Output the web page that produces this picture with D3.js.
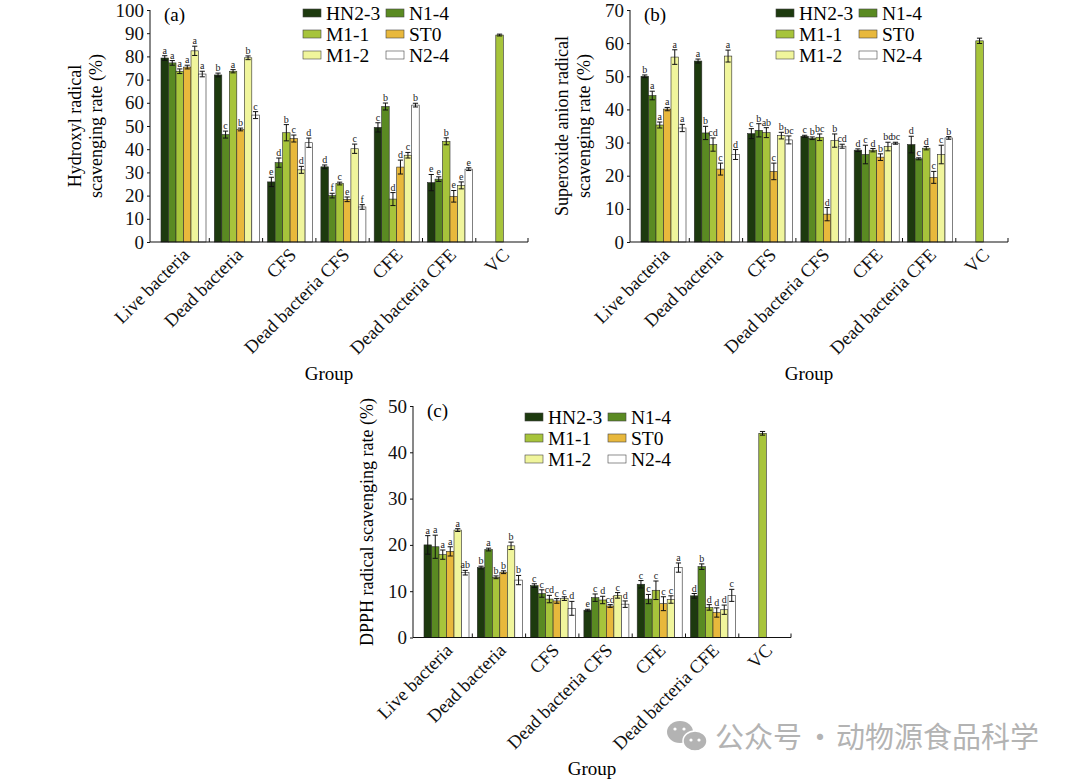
<!DOCTYPE html>
<html>
<head>
<meta charset="utf-8">
<script src="https://cdn.jsdelivr.net/npm/d3@7/dist/d3.min.js"></script>
<style>
  body { margin: 0; background: #fff; }
  svg { display: block; }
  svg text { font-family: "Liberation Serif", "DejaVu Serif", serif; }
  .tick text { font-size: 19px; fill: #111; }
  .letter { font-size: 10px; fill: #222; text-anchor: middle; }
</style>
</head>
<body>
<svg id="chart" width="1080" height="780"></svg>
<script>
var groups = ['Live bacteria', 'Dead bacteria', 'CFS', 'Dead bacteria CFS', 'CFE', 'Dead bacteria CFE', 'VC'];
var strains = ['HN2-3', 'N1-4', 'M1-1', 'ST0', 'M1-2', 'N2-4'];
var colors = ['#1d3a0e', '#5a8a22', '#a7c43b', '#e8b83c', '#f0f59c', '#ffffff'];

// (a) hydroxyl radical, one row per strain, one column per group
var hydroxylMean = [
    [79.3, 72.0, 25.9, 32.4, 49.4, 25.6, null],
    [77.2, 46.3, 34.2, 20.0, 58.4, 27.1, null],
    [73.6, 73.6, 47.1, 25.2, 18.5, 43.4, 89.2],
    [75.4, 48.5, 44.6, 18.4, 32.3, 19.7, null],
    [82.4, 79.4, 31.1, 40.2, 37.4, 24.4, null],
    [72.4, 54.7, 42.8, 15.1, 59.0, 31.4, null]
];
var hydroxylErr = [
    [1.0, 0.8, 2.0, 0.8, 2.0, 3.5, null],
    [1.0, 1.5, 2.0, 1.0, 1.5, 1.0, null],
    [1.0, 0.7, 3.5, 0.6, 2.8, 1.5, 0.4],
    [0.8, 0.6, 1.5, 1.0, 3.0, 2.5, null],
    [2.0, 0.8, 1.5, 2.0, 1.2, 1.5, null],
    [1.2, 1.5, 2.0, 1.0, 0.8, 0.6, null]
];
var hydroxylLetters = [
    ['a', 'b', 'e', 'd', 'c', 'e'],
    ['a', 'c', 'd', 'f', 'b', 'e'],
    ['a', 'a', 'b', 'c', 'd', 'b'],
    ['a', 'b', 'c', 'e', 'd', 'e'],
    ['a', 'b', 'd', 'c', 'c', 'e'],
    ['a', 'c', 'd', 'f', 'b', 'e']
];

// (b) superoxide anion radical
var superoxideMean = [
    [50.0, 54.6, 32.7, 31.9, 27.7, 29.4, null],
    [44.2, 32.9, 33.7, 31.3, 26.4, 25.1, null],
    [35.3, 29.4, 33.0, 31.6, 27.7, 28.3, 60.7],
    [40.1, 22.0, 21.3, 8.4, 25.6, 19.5, null],
    [55.8, 56.1, 32.1, 30.6, 28.8, 26.4, null],
    [34.4, 26.4, 30.8, 28.9, 29.8, 31.4, null]
];
var superoxideErr = [
    [0.4, 0.6, 1.5, 0.3, 0.4, 2.5, null],
    [1.3, 2.0, 2.0, 0.4, 2.8, 0.3, null],
    [0.9, 2.0, 1.5, 1.0, 0.5, 0.5, 0.8],
    [0.5, 1.8, 2.5, 2.0, 1.0, 1.8, null],
    [2.2, 1.8, 1.0, 2.0, 1.3, 2.8, null],
    [1.1, 1.5, 1.2, 0.6, 0.3, 0.4, null]
];
var superoxideLetters = [
    ['b', 'a', 'c', 'c', 'd', 'd'],
    ['a', 'b', 'b', 'b', 'c', 'c'],
    ['a', 'cd', 'ab', 'bc', 'd', 'd'],
    ['a', 'c', 'c', 'd', 'b', 'c'],
    ['a', 'a', 'b', 'b', 'bc', 'c'],
    ['a', 'd', 'bc', 'cd', 'bc', 'b']
];

// (c) DPPH radical
var dpphMean = [
    [20.0, 15.1, 11.2, 5.9, 11.5, 9.0, null],
    [19.6, 19.0, 9.5, 8.6, 8.3, 15.3, null],
    [17.9, 13.0, 8.3, 8.1, 10.2, 6.5, 44.1],
    [18.6, 14.1, 7.9, 6.8, 7.3, 5.4, null],
    [23.2, 19.8, 8.4, 9.1, 8.2, 6.0, null],
    [14.0, 12.4, 6.3, 7.2, 15.1, 9.1, null]
];
var dpphErr = [
    [2.0, 0.3, 0.4, 0.2, 0.8, 0.5, null],
    [2.5, 0.3, 0.8, 0.8, 1.0, 0.6, null],
    [1.0, 0.3, 0.8, 0.8, 2.0, 0.6, 0.4],
    [1.0, 0.3, 0.5, 0.3, 1.5, 1.0, null],
    [0.3, 0.8, 0.4, 0.6, 0.8, 1.0, null],
    [0.5, 1.0, 1.5, 0.7, 1.0, 1.3, null]
];
var dpphLetters = [
    ['a', 'b', 'c', 'e', 'c', 'd'],
    ['a', 'a', 'c', 'c', 'c', 'b'],
    ['a', 'b', 'cd', 'd', 'c', 'd'],
    ['a', 'b', 'c', 'cd', 'c', 'd'],
    ['a', 'b', 'c', 'c', 'c', 'd'],
    ['ab', 'b', 'd', 'd', 'a', 'c']
];

var svg = d3.select('#chart');

function drawPanel(p) {
    var plotW = 378;
    var g = svg.append('g').attr('transform', 'translate(' + p.x0 + ',0)');

    var y = d3.scaleLinear().domain([0, p.max]).range([p.yBot, p.yTop]);
    var x = d3.scaleBand().domain(groups).range([6, 6 + 7 * 53.3]).paddingInner(0);
    var xs = d3.scaleBand().domain(strains).range([5, 50]);

    // bars
    var cells = [];
    strains.forEach(function(s, i) {
        groups.forEach(function(grp, j) {
            var v = p.mean[i][j];
            if (v === null) return;
            cells.push({ s: s, i: i, grp: grp, j: j, v: v, e: p.err[i][j],
                letter: j < 6 ? p.letters[i][j] : null });
        });
    });

    var bar = g.append('g').selectAll('g')
        .data(cells)
        .join('g')
        .attr('transform', function(d) { return 'translate(' + (x(d.grp) + xs(d.s)) + ',0)'; });

    bar.append('rect')
        .attr('x', 0)
        .attr('width', xs.bandwidth())
        .attr('y', function(d) { return y(d.v); })
        .attr('height', function(d) { return y(0) - y(d.v); })
        .attr('fill', function(d) { return colors[d.i]; })
        .attr('stroke', '#2a2a2a')
        .attr('stroke-width', 0.6);

    var cx = xs.bandwidth() / 2;
    var cap = 2.6;
    bar.append('path')
        .attr('d', function(d) {
            var t = y(d.v + d.e), b = y(d.v - d.e);
            return 'M' + (cx - cap) + ',' + t + 'H' + (cx + cap) +
                'M' + cx + ',' + t + 'V' + b +
                'M' + (cx - cap) + ',' + b + 'H' + (cx + cap);
        })
        .attr('stroke', '#111')
        .attr('stroke-width', 1)
        .attr('fill', 'none');

    bar.filter(function(d) { return d.letter; })
        .append('text')
        .attr('class', 'letter')
        .attr('x', cx)
        .attr('y', function(d) { return y(d.v + d.e) - 2; })
        .text(function(d) { return d.letter; });

    // y axis
    g.append('g')
        .call(d3.axisLeft(y).ticks(p.max / 10).tickSize(3).tickPadding(3))
        .attr('font-family', null)
        .attr('font-size', null)
        .call(function(a) { a.select('.domain').attr('d', 'M0,' + p.yTop + 'V' + p.yBot).attr('stroke', '#111'); })
        .selectAll('line').attr('stroke', '#111');

    // x axis
    var xa = g.append('g').attr('transform', 'translate(0,' + p.yBot + ')');
    xa.append('line')
        .attr('x1', 0).attr('x2', plotW)
        .attr('stroke', '#111').attr('stroke-width', 1.2);
    xa.selectAll('.sep')
        .data(groups.slice(1))
        .join('line')
        .attr('class', 'sep')
        .attr('x1', function(d) { return x(d); })
        .attr('x2', function(d) { return x(d); })
        .attr('y1', 0).attr('y2', -4)
        .attr('stroke', '#111');
    xa.append('line').attr('x1', plotW).attr('x2', plotW).attr('y1', 0).attr('y2', -4).attr('stroke', '#111');
    xa.selectAll('.lab')
        .data(groups)
        .join('text')
        .attr('class', 'lab')
        .attr('text-anchor', 'end')
        .attr('font-size', 18.5)
        .attr('fill', '#111')
        .attr('transform', function(d) {
            return 'translate(' + (x(d) + x.bandwidth() / 2 + 8) + ',14) rotate(-45)';
        })
        .text(function(d) { return d; });

    g.append('text')
        .attr('x', plotW / 2 - 10)
        .attr('y', p.groupY)
        .attr('text-anchor', 'middle')
        .attr('font-size', 19)
        .text('Group');

    // y title
    p.yTitle.forEach(function(line, k) {
        g.append('text')
            .attr('transform', 'translate(' + p.yTitleX[k] + ',' + p.yTitleY + ') rotate(-90)')
            .attr('text-anchor', 'middle')
            .attr('font-size', 18)
            .text(line);
    });

    g.append('text')
        .attr('x', 14)
        .attr('y', p.yTop + 11)
        .attr('font-size', 19)
        .text(p.tag);

    // legend, two columns
    var leg = g.append('g').selectAll('g')
        .data(strains)
        .join('g')
        .attr('transform', function(d, i) {
            return 'translate(' + (p.legX + (i % 2) * 83) + ',' + (p.legY + Math.floor(i / 2) * 21) + ')';
        });
    leg.append('rect')
        .attr('x', 0).attr('y', -4)
        .attr('width', 18).attr('height', 8)
        .attr('fill', function(d, i) { return colors[i]; })
        .attr('stroke', '#444').attr('stroke-width', 0.6);
    leg.append('text')
        .attr('x', 23).attr('y', 6.5)
        .attr('font-size', 19.5)
        .text(function(d) { return d; });
}

drawPanel({ x0: 150, yTop: 10, yBot: 242, max: 100, mean: hydroxylMean, err: hydroxylErr,
    letters: hydroxylLetters, tag: '(a)', legX: 153, legY: 13, groupY: 380,
    yTitle: ['Hydroxyl radical', 'scavenging rate (%)'], yTitleX: [-69, -48], yTitleY: 126 });

drawPanel({ x0: 630, yTop: 10, yBot: 242, max: 70, mean: superoxideMean, err: superoxideErr,
    letters: superoxideLetters, tag: '(b)', legX: 146, legY: 13, groupY: 380,
    yTitle: ['Superoxide anion radical', 'scavenging rate (%)'], yTitleX: [-62, -40], yTitleY: 126 });

drawPanel({ x0: 413, yTop: 406, yBot: 637.5, max: 50, mean: dpphMean, err: dpphErr,
    letters: dpphLetters, tag: '(c)', legX: 112, legY: 417, groupY: 775,
    yTitle: ['DPPH radical scavenging rate (%)'], yTitleX: [-40], yTitleY: 522 });

// watermark
var wm = svg.append('g').attr('fill', '#b3b3b3');
wm.append('ellipse').attr('cx', 680).attr('cy', 732).attr('rx', 13).attr('ry', 11);
wm.append('ellipse').attr('cx', 695).attr('cy', 741).attr('rx', 12).attr('ry', 10)
    .attr('stroke', '#fff').attr('stroke-width', 1.5);
[[675, 729], [684, 729], [691, 740], [699, 740]].forEach(function(c) {
    wm.append('circle').attr('cx', c[0]).attr('cy', c[1]).attr('r', 1.6).attr('fill', '#fff');
});
var cjk = '"Noto Sans CJK SC", sans-serif';
wm.append('text').attr('x', 715).attr('y', 748).attr('font-size', 29)
    .style('font-family', cjk).text('公众号');
wm.append('text').attr('x', 820).attr('y', 748).attr('font-size', 29).attr('text-anchor', 'middle')
    .style('font-family', cjk).text('·');
wm.append('text').attr('x', 836).attr('y', 748).attr('font-size', 29)
    .style('font-family', cjk).text('动物源食品科学');
</script>
</body>
</html>
